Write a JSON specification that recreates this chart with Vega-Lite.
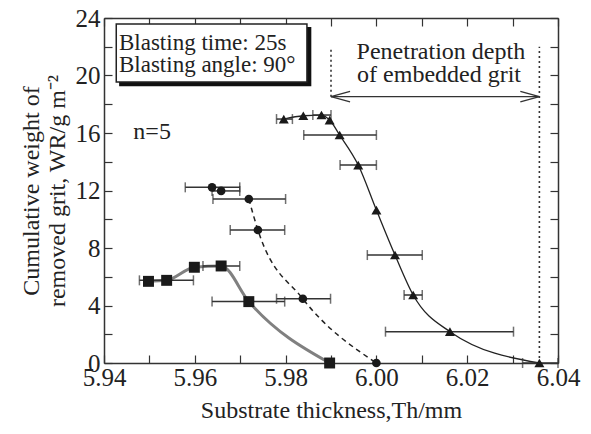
{
  "$schema": "https://vega.github.io/schema/vega-lite/v6.json",
  "width": 454,
  "height": 345,
  "autosize": "none",
  "padding": {"left": 104, "top": 18, "right": 33, "bottom": 71},
  "background": "white",
  "config": {
    "view": {"stroke": null},
    "font": "Liberation Serif",
    "axis": {
      "grid": false,
      "domainColor": "#333",
      "domainWidth": 1.5,
      "tickColor": "#333",
      "tickWidth": 1.2,
      "tickSize": -8,
      "labelFont": "Liberation Serif",
      "labelFontSize": 25,
      "labelColor": "#222",
      "titleFont": "Liberation Serif",
      "titleFontSize": 24,
      "titleFontWeight": "normal",
      "titleColor": "#222"
    }
  },
  "datasets": {
    "pts": [
      {"s": "sq", "x": 5.9498, "y": 5.68, "lo": null, "hi": null, "ln": 1},
      {"s": "sq", "x": 5.9538, "y": 5.75, "lo": 5.9478, "hi": 5.9597, "ln": 1},
      {"s": "sq", "x": 5.9599, "y": 6.66, "lo": null, "hi": null, "ln": 1},
      {"s": "sq", "x": 5.9658, "y": 6.75, "lo": 5.9618, "hi": 5.9699, "ln": 1},
      {"s": "sq", "x": 5.9719, "y": 4.27, "lo": 5.9638, "hi": 5.9798, "ln": 1},
      {"s": "sq", "x": 5.9897, "y": 0, "lo": null, "hi": null, "ln": 1},
      {"s": "ci", "x": 5.9638, "y": 12.22, "lo": 5.9579, "hi": 5.9699, "ln": 0},
      {"s": "ci", "x": 5.9658, "y": 11.97, "lo": 5.9638, "hi": 5.9699, "ln": 0},
      {"s": "ci", "x": 5.9719, "y": 11.41, "lo": 5.964, "hi": 5.98, "ln": 1},
      {"s": "ci", "x": 5.9739, "y": 9.25, "lo": 5.9678, "hi": 5.9798, "ln": 1},
      {"s": "ci", "x": 5.9838, "y": 4.47, "lo": 5.978, "hi": 5.9899, "ln": 1},
      {"s": "ci", "x": 6.0, "y": 0, "lo": null, "hi": null, "ln": 1},
      {"s": "tr", "x": 5.9796, "y": 16.97, "lo": 5.978, "hi": 5.9815, "ln": 1},
      {"s": "tr", "x": 5.9839, "y": 17.2, "lo": null, "hi": null, "ln": 1},
      {"s": "tr", "x": 5.9879, "y": 17.25, "lo": 5.986, "hi": 5.99, "ln": 1},
      {"s": "tr", "x": 5.9897, "y": 16.9, "lo": null, "hi": null, "ln": 1},
      {"s": "tr", "x": 5.9919, "y": 15.86, "lo": 5.984, "hi": 6.0, "ln": 1},
      {"s": "tr", "x": 5.996, "y": 13.77, "lo": 5.992, "hi": 6.0, "ln": 1},
      {"s": "tr", "x": 6.0, "y": 10.64, "lo": null, "hi": null, "ln": 1},
      {"s": "tr", "x": 6.0041, "y": 7.51, "lo": 5.998, "hi": 6.0101, "ln": 1},
      {"s": "tr", "x": 6.0081, "y": 4.73, "lo": 6.0061, "hi": 6.0101, "ln": 1},
      {"s": "tr", "x": 6.0162, "y": 2.18, "lo": 6.002, "hi": 6.0302, "ln": 1},
      {"s": "tr", "x": 6.0359, "y": 0, "lo": 6.0322, "hi": 6.04, "ln": 1}
    ],
    "segs": [
      {"k": "dot", "x": 5.99, "x2": 5.99, "y": 18.53, "y2": 21.9},
      {"k": "dot", "x": 6.0359, "x2": 6.0359, "y": 0, "y2": 22.0},
      {"k": "arr", "x": 5.99, "x2": 6.0359, "y": 18.53, "y2": 18.53},
      {"k": "arr", "x": 5.99, "x2": 5.9942, "y": 18.53, "y2": 18.9},
      {"k": "arr", "x": 5.99, "x2": 5.9942, "y": 18.53, "y2": 18.16},
      {"k": "arr", "x": 6.0359, "x2": 6.0317, "y": 18.53, "y2": 18.9},
      {"k": "arr", "x": 6.0359, "x2": 6.0317, "y": 18.53, "y2": 18.16}
    ],
    "box": [
      {"k": "shadow", "x": 5.9435, "x2": 5.9855, "y": 19.3, "y2": 23.33},
      {"k": "box", "x": 5.9427, "x2": 5.9847, "y": 19.55, "y2": 23.58}
    ],
    "ctext": [
      {"t": "Penetration depth", "x": 6.0142, "y": 21.63},
      {"t": "of embedded grit", "x": 6.0138, "y": 20.03},
      {"t": "n=5", "x": 5.9506, "y": 16.07}
    ],
    "ltext": [
      {"t": "Blasting time: 25s", "x": 5.9433, "y": 22.26},
      {"t": "Blasting angle: 90°", "x": 5.9433, "y": 20.73}
    ]
  },
  "layer": [
    {
      "data": {"name": "pts"},
      "mark": {"type": "point", "opacity": 0},
      "encoding": {
        "x": {
          "field": "x", "type": "quantitative",
          "scale": {"domain": [5.94, 6.04], "nice": false, "zero": false},
          "axis": {
            "orient": "bottom",
            "values": [5.94, 5.95, 5.96, 5.97, 5.98, 5.99, 6.0, 6.01, 6.02, 6.03, 6.04],
            "labelExpr": "abs(round(datum.value*100)) % 2 == 0 ? format(datum.value, '.2f') : ''",
            "labelPadding": 10,
            "labelFlush": false,
            "labelOverlap": false,
            "title": "Substrate thickness,Th/mm",
            "titlePadding": 8
          }
        },
        "y": {
          "field": "y", "type": "quantitative",
          "scale": {"domain": [0, 24], "nice": false, "zero": false},
          "axis": {
            "orient": "left",
            "values": [0, 2, 4, 6, 8, 10, 12, 14, 16, 18, 20, 22, 24],
            "labelExpr": "datum.value % 4 == 0 ? datum.label : ''",
            "labelPadding": 12,
            "labelOverlap": false,
            "labelFlush": false,
            "title": ["Cumulative weight of", "removed grit, WR/g m⁻²"],
            "titleLineHeight": 26,
            "titlePadding": 6
          }
        }
      }
    },
    {
      "data": {"name": "pts"},
      "mark": {"type": "point", "opacity": 0},
      "encoding": {
        "x": {
          "field": "x", "type": "quantitative",
          "axis": {
            "orient": "top",
            "values": [5.94, 5.95, 5.96, 5.97, 5.98, 5.99, 6.0, 6.01, 6.02, 6.03, 6.04],
            "labels": false,
            "title": null
          }
        },
        "y": {
          "field": "y", "type": "quantitative",
          "axis": {
            "orient": "right",
            "values": [0, 2, 4, 6, 8, 10, 12, 14, 16, 18, 20, 22, 24],
            "labels": false,
            "title": null
          }
        }
      }
    },
    {
      "data": {"name": "segs"},
      "transform": [{"filter": "datum.k == 'dot'"}],
      "mark": {"type": "rule", "color": "#333", "strokeWidth": 1.6, "strokeDash": [2, 3]},
      "encoding": {
        "x": {"field": "x", "type": "quantitative", "axis": null},
        "x2": {"field": "x2"},
        "y": {"field": "y", "type": "quantitative", "axis": null},
        "y2": {"field": "y2"}
      }
    },
    {
      "data": {"name": "segs"},
      "transform": [{"filter": "datum.k == 'arr'"}],
      "mark": {"type": "rule", "color": "#333", "strokeWidth": 1.4},
      "encoding": {
        "x": {"field": "x", "type": "quantitative", "axis": null},
        "x2": {"field": "x2"},
        "y": {"field": "y", "type": "quantitative", "axis": null},
        "y2": {"field": "y2"}
      }
    },
    {
      "data": {"name": "box"},
      "mark": {"type": "rect", "strokeWidth": 1.5},
      "encoding": {
        "x": {"field": "x", "type": "quantitative", "axis": null},
        "x2": {"field": "x2"},
        "y": {"field": "y", "type": "quantitative", "axis": null},
        "y2": {"field": "y2"},
        "fill": {"field": "k", "type": "nominal", "scale": {"domain": ["shadow", "box"], "range": ["#111", "#ffffff"]}, "legend": null},
        "stroke": {"field": "k", "type": "nominal", "scale": {"domain": ["shadow", "box"], "range": ["#111", "#222"]}, "legend": null}
      }
    },
    {
      "data": {"name": "ctext"},
      "mark": {"type": "text", "font": "Liberation Serif", "fontSize": 24, "color": "#222", "align": "center", "baseline": "middle"},
      "encoding": {
        "x": {"field": "x", "type": "quantitative", "axis": null},
        "y": {"field": "y", "type": "quantitative", "axis": null},
        "text": {"field": "t"}
      }
    },
    {
      "data": {"name": "ltext"},
      "mark": {"type": "text", "font": "Liberation Serif", "fontSize": 23, "color": "#222", "align": "left", "baseline": "middle"},
      "encoding": {
        "x": {"field": "x", "type": "quantitative", "axis": null},
        "y": {"field": "y", "type": "quantitative", "axis": null},
        "text": {"field": "t"}
      }
    },
    {
      "data": {"name": "pts"},
      "transform": [{"filter": "datum.s == 'sq'"}],
      "mark": {"type": "line", "color": "#808080", "strokeWidth": 3, "interpolate": "monotone"},
      "encoding": {
        "x": {"field": "x", "type": "quantitative", "axis": null},
        "y": {"field": "y", "type": "quantitative", "axis": null}
      }
    },
    {
      "data": {"name": "pts"},
      "transform": [{"filter": "datum.s == 'ci' && datum.ln == 1"}],
      "mark": {"type": "line", "color": "#222", "strokeWidth": 1.5, "strokeDash": [5, 4], "interpolate": "monotone"},
      "encoding": {
        "x": {"field": "x", "type": "quantitative", "axis": null},
        "y": {"field": "y", "type": "quantitative", "axis": null}
      }
    },
    {
      "data": {"name": "pts"},
      "transform": [{"filter": "datum.s == 'tr'"}],
      "mark": {"type": "line", "color": "#222", "strokeWidth": 1.3, "interpolate": "monotone"},
      "encoding": {
        "x": {"field": "x", "type": "quantitative", "axis": null},
        "y": {"field": "y", "type": "quantitative", "axis": null}
      }
    },
    {
      "data": {"name": "pts"},
      "transform": [{"filter": "datum.lo != null"}],
      "mark": {"type": "rule", "color": "#333", "strokeWidth": 1.5},
      "encoding": {
        "x": {"field": "lo", "type": "quantitative", "axis": null},
        "x2": {"field": "hi"},
        "y": {"field": "y", "type": "quantitative", "axis": null}
      }
    },
    {
      "data": {"name": "pts"},
      "transform": [{"filter": "datum.lo != null"}],
      "mark": {"type": "tick", "color": "#333", "thickness": 1.5, "size": 10, "orient": "vertical"},
      "encoding": {
        "x": {"field": "lo", "type": "quantitative", "axis": null},
        "y": {"field": "y", "type": "quantitative", "axis": null}
      }
    },
    {
      "data": {"name": "pts"},
      "transform": [{"filter": "datum.lo != null"}],
      "mark": {"type": "tick", "color": "#333", "thickness": 1.5, "size": 10, "orient": "vertical"},
      "encoding": {
        "x": {"field": "hi", "type": "quantitative", "axis": null},
        "y": {"field": "y", "type": "quantitative", "axis": null}
      }
    },
    {
      "data": {"name": "pts"},
      "transform": [{"filter": "datum.s == 'sq'"}],
      "mark": {"type": "point", "shape": "square", "size": 120, "filled": true, "color": "#1a1a1a", "opacity": 1},
      "encoding": {
        "x": {"field": "x", "type": "quantitative", "axis": null},
        "y": {"field": "y", "type": "quantitative", "axis": null}
      }
    },
    {
      "data": {"name": "pts"},
      "transform": [{"filter": "datum.s == 'ci'"}],
      "mark": {"type": "point", "shape": "circle", "size": 75, "filled": true, "color": "#1a1a1a", "opacity": 1},
      "encoding": {
        "x": {"field": "x", "type": "quantitative", "axis": null},
        "y": {"field": "y", "type": "quantitative", "axis": null}
      }
    },
    {
      "data": {"name": "pts"},
      "transform": [{"filter": "datum.s == 'tr'"}],
      "mark": {"type": "point", "shape": "triangle-up", "size": 100, "filled": true, "color": "#1a1a1a", "opacity": 1},
      "encoding": {
        "x": {"field": "x", "type": "quantitative", "axis": null},
        "y": {"field": "y", "type": "quantitative", "axis": null}
      }
    }
  ],
  "resolve": {"axis": {"x": "independent", "y": "independent"}}
}
